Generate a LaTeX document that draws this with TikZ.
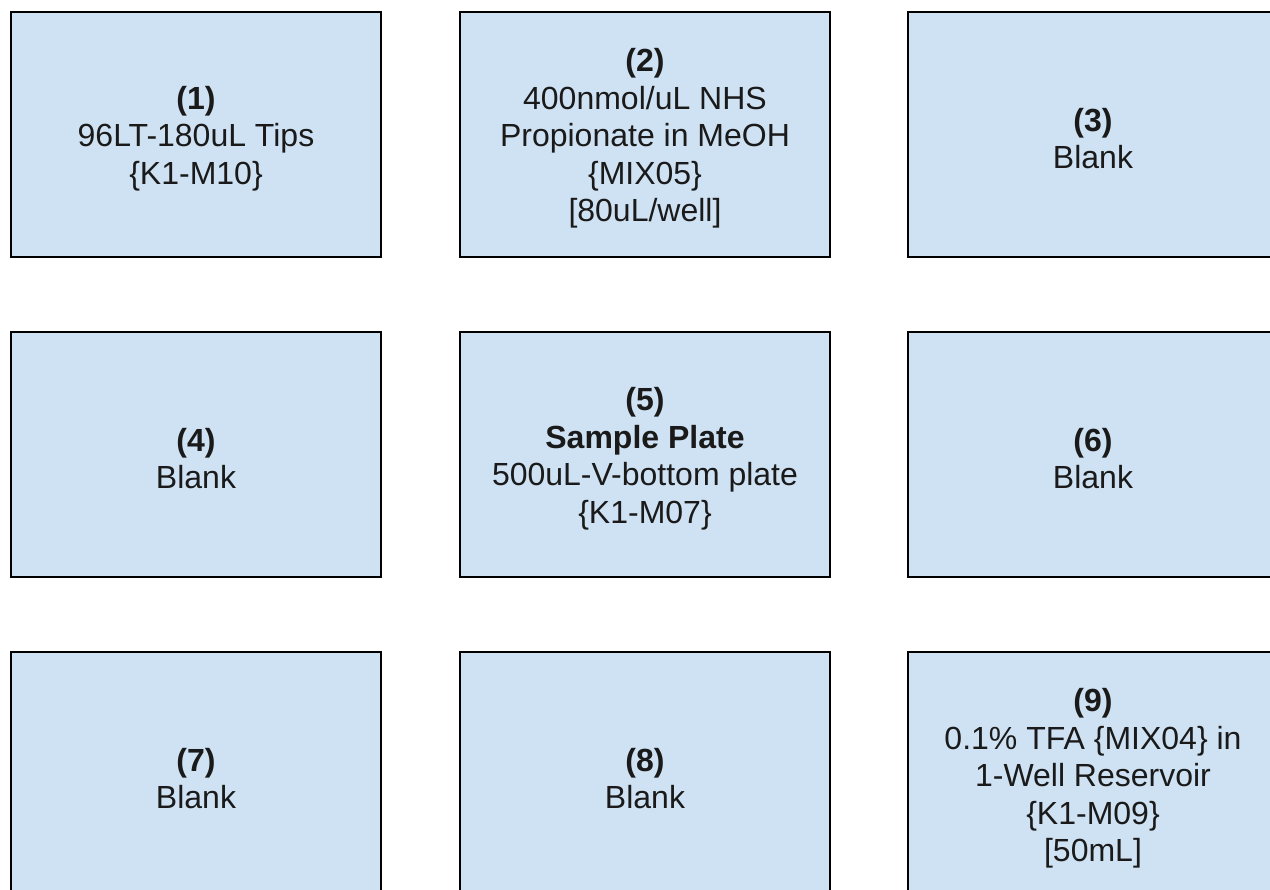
\documentclass[tikz,border=0pt]{standalone}
\usepackage{fontspec}
\setmainfont{Liberation Sans}
\definecolor{boxfill}{HTML}{CFE2F3}
\definecolor{txt}{HTML}{1A1A1A}
\begin{document}
\begin{tikzpicture}[x=1pt,y=-1pt,
  deckbox/.style={draw=black, line width=2.4pt, fill=boxfill, rectangle,
    minimum width=370pt, minimum height=245pt, inner sep=0pt},
  decktext/.style={align=center, text=txt, inner sep=0pt,
    font=\fontsize{32}{37.5}\selectfont}]
\useasboundingbox (0,0) rectangle (1270,890);
\clip (0,0) rectangle (1270,890);
\node[deckbox] (b1) at (196,134.5) {};
\node[deckbox] (b2) at (645,134.5) {};
\node[deckbox] (b3) at (1093,134.5) {};
\node[deckbox] (b4) at (196,454.5) {};
\node[deckbox] (b5) at (645,454.5) {};
\node[deckbox] (b6) at (1093,454.5) {};
\node[deckbox] (b7) at (196,774.5) {};
\node[deckbox] (b8) at (645,774.5) {};
\node[deckbox] (b9) at (1093,774.5) {};
\node[decktext] (t1) at ([yshift=-4pt]b1.center) {\textbf{(1)}\\96LT-180uL Tips\\\{K1-M10\}};
\node[decktext] (t2) at ([yshift=-4pt]b2.center) {\textbf{(2)}\\400nmol/uL NHS\\Propionate in MeOH\\\{MIX05\}\\{[}80uL/well{]}};
\node[decktext] (t3) at ([yshift=-4pt]b3.center) {\textbf{(3)}\\Blank};
\node[decktext] (t4) at ([yshift=-4pt]b4.center) {\textbf{(4)}\\Blank};
\node[decktext] (t5) at ([yshift=-4pt]b5.center) {\textbf{(5)}\\\textbf{Sample Plate}\\500uL-V-bottom plate\\\{K1-M07\}};
\node[decktext] (t6) at ([yshift=-4pt]b6.center) {\textbf{(6)}\\Blank};
\node[decktext] (t7) at ([yshift=-4pt]b7.center) {\textbf{(7)}\\Blank};
\node[decktext] (t8) at ([yshift=-4pt]b8.center) {\textbf{(8)}\\Blank};
\node[decktext] (t9) at ([yshift=-4pt]b9.center) {\textbf{(9)}\\0.1\% TFA \{MIX04\} in\\1-Well Reservoir\\\{K1-M09\}\\{[}50mL{]}};
\end{tikzpicture}
\end{document}
